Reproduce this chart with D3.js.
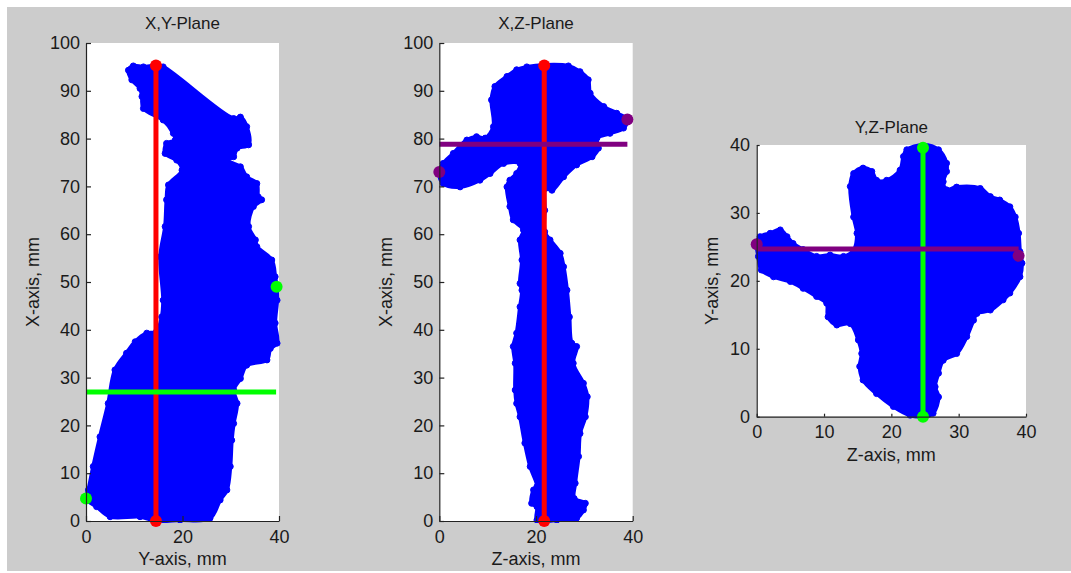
<!DOCTYPE html>
<html>
<head>
<meta charset="utf-8">
<script src="https://cdn.jsdelivr.net/npm/d3@7"></script>
<style>
  html, body { margin: 0; padding: 0; background: #ffffff; }
  svg { display: block; }
  text { font-family: "Liberation Sans", Arial, sans-serif; fill: #1a1a1a; }
</style>
</head>
<body>
<svg id="chart" width="1071" height="573"></svg>
<script>
// ---------------- DATA (mm) ----------------
const panelTitles = ["X,Y-Plane", "X,Z-Plane", "Y,Z-Plane"];
const xLabels = ["Y-axis, mm", "Z-axis, mm", "Z-axis, mm"];
const yLabels = ["X-axis, mm", "X-axis, mm", "Y-axis, mm"];
const xTicks1 = [0, 20, 40];
const yTicks1 = [0, 10, 20, 30, 40, 50, 60, 70, 80, 90, 100];
const xTicks3 = [0, 10, 20, 30, 40];
const yTicks3 = [0, 10, 20, 30, 40];

// Outline of projected point cloud, X,Y-plane: [Y, X]
const outlineXY = [
  [8.8,94.3],[9.8,95.2],[11.9,95.0],[14.5,95.3],[16.0,95.0],[30.6,84.2],[32.0,84.5],[33.3,82.5],
  [33.7,78.7],[31.3,78.0],[30.6,76.2],[29.2,75.5],[32.0,74.1],[33.3,72.0],[35.4,70.6],[35.7,67.8],
  [36.4,67.2],[34.7,65.8],[33.7,61.6],[35.1,58.8],[35.4,57.4],[38.5,54.6],[39.2,51.1],[39.5,49.2],
  [39.6,46.2],[39.2,41.4],[39.6,37.2],[38.2,36.1],[37.5,33.7],[33.3,32.6],[32.0,29.8],[30.6,27.4],
  [31.3,24.6],[30.6,20.4],[30.2,16.9],[29.9,11.4],[29.2,6.5],[27.8,4.4],[25.7,0.6],[19.5,0.2],
  [14.6,0.0],[11.2,0.9],[5.0,0.9],[2.2,3.0],[0.0,4.7],[0.5,6.5],[1.5,11.4],[2.9,17.6],[4.6,24.6],
  [6.0,31.6],[8.4,35.1],[10.2,37.5],[12.6,39.3],[14.6,39.6],[15.7,42.7],[16.0,46.2],[15.4,55.3],
  [16.4,61.6],[16.7,67.2],[17.1,70.3],[19.9,73.4],[18.8,75.5],[16.4,76.9],[16.7,79.0],[18.5,79.7],
  [18.1,81.1],[16.0,83.9],[11.9,86.3],[11.6,88.8],[11.2,90.5],[9.5,92.3]
];

// Outline, X,Z-plane: [Z, X]
const outlineXZ = [
  [18.1,95.0],[21.9,95.4],[26.7,95.2],[29.1,94.0],[30.8,92.3],[31.2,89.5],[34.0,86.7],[36.7,85.3],
  [38.9,84.0],[38.1,82.2],[35.3,81.1],[32.6,80.1],[32.9,78.0],[31.6,76.2],[28.4,74.5],[25.7,72.0],
  [23.3,69.2],[22.0,69.6],[21.8,65.0],[21.8,60.5],[22.9,58.8],[25.0,56.0],[25.7,53.2],[26.4,48.3],
  [26.9,42.7],[27.4,37.2],[28.4,36.5],[27.7,33.0],[29.8,28.8],[30.6,26.0],[30.2,21.8],[29.1,18.3],
  [28.8,13.5],[28.1,7.9],[27.9,4.7],[30.2,3.7],[29.8,2.3],[28.4,0.6],[24.3,0.2],[20.2,0.2],
  [20.2,3.0],[19.1,3.7],[19.5,6.5],[20.2,7.2],[18.8,11.4],[17.7,16.3],[16.7,21.8],[16.0,24.6],
  [15.7,27.4],[15.7,33.0],[15.3,36.5],[16.0,39.3],[16.7,44.8],[17.1,48.3],[16.7,49.7],[17.1,54.6],
  [16.7,58.8],[17.4,60.9],[15.3,63.0],[14.6,65.8],[14.0,69.9],[14.6,71.3],[16.0,72.7],[16.7,74.8],
  [13.3,74.8],[10.5,72.7],[8.4,71.3],[4.3,69.9],[0.8,70.6],[0.0,73.0],[0.8,74.8],[2.9,76.9],
  [5.7,79.7],[7.7,80.4],[9.5,80.1],[11.2,82.5],[10.8,88.1],[11.5,90.9],[14.0,93.0],[16.0,94.4]
];

// Outline, Y,Z-plane: [Z, Y]
const outlineYZ = [
  [22.3,39.3],[24.75,40.0],[27.0,39.3],[28.2,37.3],[28.2,36.1],[27.7,34.6],[28.2,33.4],[29.7,33.8],
  [33.2,33.6],[34.7,32.4],[36.1,31.9],[37.6,30.9],[38.4,29.4],[38.9,27.0],[39.1,24.3],[39.4,22.6],
  [39.1,20.6],[37.6,18.2],[36.6,17.2],[34.7,15.7],[32.7,15.2],[32.2,14.2],[31.2,11.8],[29.7,9.3],
  [27.7,8.3],[27.0,6.4],[26.5,4.4],[27.0,2.9],[26.2,0.5],[24.75,0.0],[22.8,0.2],[20.3,1.5],
  [17.8,3.4],[15.8,5.4],[15.3,7.4],[15.6,9.3],[15.1,11.3],[13.9,13.7],[11.9,13.5],[10.6,14.7],
  [10.4,16.7],[8.9,17.7],[6.9,18.9],[5.0,19.9],[2.5,20.6],[0.7,21.6],[0.25,23.6],[0.0,25.4],
  [0.5,26.5],[2.0,27.0],[3.5,27.5],[4.5,26.5],[5.4,25.5],[6.9,24.6],[8.9,23.6],[10.9,23.8],
  [12.9,23.6],[14.4,24.5],[14.9,27.0],[14.4,29.4],[13.9,33.9],[14.4,35.8],[15.8,36.6],[17.1,36.1],
  [17.8,34.8],[19.3,34.8],[21.3,36.3],[21.8,38.3]
];

// Axis lines through extremes: [[h0, v0], [h1, v1]]
const redLineXY    = [[14.5, 0.0], [14.5, 95.3]];
const greenLineXY  = [[0.0, 27.0], [39.4, 27.0]];
const greenPtsXY   = [[0.0, 4.7], [39.5, 49.0]];
const redLineXZ    = [[21.7, 0.0], [21.7, 95.3]];
const purpleLineXZ = [[0.0, 78.8], [38.9, 78.8]];
const purplePtsXZ  = [[0.0, 73.0], [38.9, 84.0]];
const greenLineYZ  = [[24.7, 0.0], [24.7, 39.6]];
const purpleLineYZ = [[0.0, 24.7], [38.9, 24.7]];
const purplePtsYZ  = [[0.0, 25.4], [38.9, 23.7]];

// ---------------- DRAWING ----------------
const svg = d3.select("#chart");
svg.append("rect").attr("x", 7).attr("y", 7).attr("width", 1064).attr("height", 564).attr("fill", "#cccccc");

const BLUE = "#0000ff", RED = "#ff0000", GREEN = "#00ff00", PURPLE = "#800080";

const panels = [
  { box: [86, 43, 279, 521], xd: [0, 40], yd: [0, 100], xt: xTicks1, yt: yTicks1, tick: 5,
    titleY: 28.5, xlabY: 565, ylabX: 38.5, xpad: 9, ypad: 6,
    outline: outlineXY,
    lines: [[redLineXY, RED], [greenLineXY, GREEN]],
    pts: [[redLineXY, RED], [greenPtsXY, GREEN]] },
  { box: [439.3, 43, 632.7, 521], xd: [0, 40], yd: [0, 100], xt: xTicks1, yt: yTicks1, tick: 5,
    titleY: 28.5, xlabY: 565, ylabX: 391.8, xpad: 9, ypad: 6,
    outline: outlineXZ,
    lines: [[redLineXZ, RED], [purpleLineXZ, PURPLE]],
    pts: [[redLineXZ, RED], [purplePtsXZ, PURPLE]] },
  { box: [756.7, 145, 1026, 416.7], xd: [0, 40], yd: [0, 40], xt: xTicks3, yt: yTicks3, tick: 3,
    titleY: 133, xlabY: 461, ylabX: 717.5, xpad: 8.3, ypad: 6.7,
    outline: outlineYZ,
    lines: [[greenLineYZ, GREEN], [purpleLineYZ, PURPLE]],
    pts: [[greenLineYZ, GREEN], [purplePtsYZ, PURPLE]] }
];

panels.forEach((p, i) => {
  const [x0, y0, x1, y1] = p.box;
  const xs = d3.scaleLinear().domain(p.xd).range([x0, x1]);
  const ys = d3.scaleLinear().domain(p.yd).range([y1, y0]);
  const g = svg.append("g");

  g.append("rect").attr("x", x0).attr("y", y0).attr("width", x1 - x0).attr("height", y1 - y0).attr("fill", "#ffffff");

  const clipId = "clip" + i;
  g.append("clipPath").attr("id", clipId).append("rect")
    .attr("x", x0 - 2).attr("y", y0 - 2).attr("width", x1 - x0 + 4).attr("height", y1 - y0 + 4);
  const cg = g.append("g").attr("clip-path", `url(#${clipId})`);

  const line = d3.line().x(d => xs(d[0])).y(d => ys(d[1])).curve(d3.curveCatmullRomClosed.alpha(0.5));
  cg.append("path").attr("d", line(p.outline))
    .attr("fill", BLUE).attr("stroke", BLUE).attr("stroke-width", 4).attr("stroke-linejoin", "round");
  // circle markers along the edge (scatter 'o' look)
  cg.selectAll(null).data(p.outline).enter().append("circle")
    .attr("cx", d => xs(d[0])).attr("cy", d => ys(d[1])).attr("r", 3)
    .attr("fill", BLUE).attr("stroke", BLUE).attr("stroke-width", 1);

  const seg = d3.line().x(d => xs(d[0])).y(d => ys(d[1]));
  p.lines.forEach(([pts, col]) => {
    g.append("path").attr("d", seg(pts)).attr("fill", "none").attr("stroke", col).attr("stroke-width", 5);
  });
  p.pts.forEach(([pts, col]) => {
    g.selectAll(null).data(pts).enter().append("circle")
      .attr("cx", d => xs(d[0])).attr("cy", d => ys(d[1])).attr("r", 6).attr("fill", col);
  });

  const ax = g.append("g").attr("transform", `translate(0,${y1})`)
    .call(d3.axisBottom(xs).tickValues(p.xt).tickFormat(d3.format("d")).tickSizeInner(-p.tick).tickSizeOuter(0).tickPadding(p.xpad));
  const ay = g.append("g").attr("transform", `translate(${x0},0)`)
    .call(d3.axisLeft(ys).tickValues(p.yt).tickFormat(d3.format("d")).tickSizeInner(-p.tick).tickSizeOuter(0).tickPadding(p.ypad));
  [ax, ay].forEach(a => {
    a.selectAll("path.domain").attr("stroke", "#222").attr("stroke-width", 1.2);
    a.selectAll(".tick line").attr("stroke", "#222").attr("stroke-width", 1.2);
    a.selectAll(".tick text").attr("font-size", 18).attr("fill", "#1a1a1a")
      .attr("font-family", "'Liberation Sans', Arial, sans-serif");
  });

  g.append("text").attr("x", (x0 + x1) / 2).attr("y", p.titleY).attr("text-anchor", "middle")
    .attr("font-size", 17).text(panelTitles[i]);
  g.append("text").attr("x", (x0 + x1) / 2).attr("y", p.xlabY).attr("text-anchor", "middle")
    .attr("font-size", 18).text(xLabels[i]);
  g.append("text").attr("transform", `translate(${p.ylabX},${(y0 + y1) / 2}) rotate(-90)`)
    .attr("text-anchor", "middle").attr("font-size", 18).text(yLabels[i]);
});
</script>
</body>
</html>
